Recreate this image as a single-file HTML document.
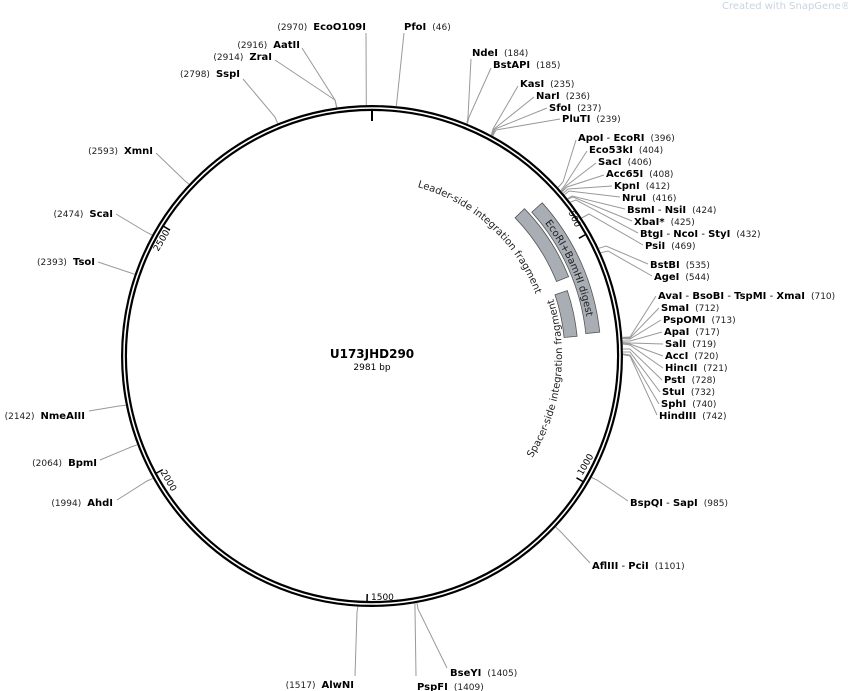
<!DOCTYPE html>
<html><head><meta charset="utf-8"><style>
html,body{margin:0;padding:0;background:#fff;width:848px;height:691px;overflow:hidden}
svg{display:block;font-family:"DejaVu Sans","Liberation Sans",sans-serif}
.n{font-weight:bold;font-size:10px;fill:#000}
.p{font-size:9px;fill:#222}
.l{stroke:#999;stroke-width:1;fill:none}
.t{font-size:9px;fill:#000}
</style></head><body>
<svg width="848" height="691" viewBox="0 0 848 691" xmlns="http://www.w3.org/2000/svg">
<text x="722" y="9" style="font-size:10px;fill:#c8d4e0">Created with SnapGene®</text>

<!-- ring -->
<circle cx="372" cy="356" r="248" fill="none" stroke="#000" stroke-width="6"/>
<circle cx="372" cy="356" r="248" fill="none" stroke="#fff" stroke-width="1.6"/>

<!-- ticks -->
<g stroke="#000" stroke-width="1.5">
<line x1="372" y1="109" x2="372" y2="121" stroke-width="2"/>
<line x1="586.7" y1="233.9" x2="578.9" y2="238.3"/>
<line x1="584.3" y1="482.4" x2="576.5" y2="477.8"/>
<line x1="367" y1="603" x2="367.2" y2="594"/>
<line x1="154.9" y1="473.9" x2="162.8" y2="469.6"/>
<line x1="162.3" y1="225.5" x2="170" y2="230.2"/>
</g>
<text class="t" transform="translate(572,220) rotate(65)" text-anchor="middle">500</text>
<text class="t" transform="translate(588,466) rotate(-60)" text-anchor="middle">1000</text>
<text class="t" x="371" y="600">1500</text>
<text class="t" transform="translate(166,482) rotate(60)" text-anchor="middle">2000</text>
<text class="t" transform="translate(164,242) rotate(-60)" text-anchor="middle">2500</text>

<!-- feature bars -->
<g fill="#a9aeb5" stroke="#555" stroke-width="0.8">
<path d="M542.2,202.8 A229,229 0 0 1 599.7,332.1 L585.8,333.5 A215,215 0 0 0 531.8,212.1 Z"/>
<path d="M524.5,208.7 A212,212 0 0 1 568.6,276.6 L556.5,281.5 A199,199 0 0 0 515.1,217.8 Z"/>
<path d="M567.3,290.6 A206,206 0 0 1 577.1,336.3 L564.1,337.5 A193,193 0 0 0 555,294.8 Z"/>
</g>
<defs>
<path id="dg" d="M512.1,189 A218,218 0 0 1 589.9,363.6"/>
<path id="ld" d="M402.4,183.7 A175,175 0 0 1 544.3,325.6"/>
<path id="sp" d="M517.5,478.1 A190,190 0 0 0 544.2,275.7"/>
</defs>
<text style="font-size:10px;fill:#222"><textPath href="#dg" startOffset="50%" text-anchor="middle">EcoRI+BamHI digest</textPath></text>
<text style="font-size:10px;fill:#222"><textPath href="#ld" startOffset="46%" text-anchor="middle">Leader-side integration fragment</textPath></text>
<text style="font-size:10px;fill:#222"><textPath href="#sp" startOffset="50%" text-anchor="middle">Spacer-side integration fragment</textPath></text>

<!-- center -->
<text x="372" y="358" text-anchor="middle" style="font-weight:bold;font-size:12px">U173JHD290</text>
<text x="372" y="370" text-anchor="middle" style="font-size:9px">2981 bp</text>

<!-- connector lines -->
<g class="l">
<polyline points="396.3,106.2 397,100 404,33"/>
<polyline points="466.9,123.6 468,117 471,59"/>
<polyline points="467.4,123.8 469,117 491,68"/>
<polyline points="491.3,135.2 493,129 518,86"/>
<polyline points="491.8,135.4 494,129 534,97"/>
<polyline points="492.3,135.6 495,129 547,108"/>
<polyline points="492.8,135.8 496,130 560,119"/>
<polyline points="558,187.5 563,182 576,140"/>
<polyline points="560.8,190.7 565,185 587,151"/>
<polyline points="561.4,191.4 566,186 596,163"/>
<polyline points="562,192 567,187 604,175"/>
<polyline points="563.2,193.4 568,189 612,186"/>
<polyline points="564.4,194.8 569,191 620,197"/>
<polyline points="567.6,198.7 572,196 625,209"/>
<polyline points="567.9,199 573,197 632,221"/>
<polyline points="570.3,202.1 576,200 638,233"/>
<polyline points="581.6,218 589,214 643,245"/>
<polyline points="598.7,248.3 606,246 648,264"/>
<polyline points="600.8,252.7 608,251 652,276"/>
<polyline points="622.3,337.4 630,337 656,296"/>
<polyline points="622.4,338 630,338 659,308"/>
<polyline points="622.4,338.6 630,339 661,320"/>
<polyline points="622.5,341 630,341 662,332"/>
<polyline points="622.5,342.5 630,343 663,344"/>
<polyline points="622.5,343 630,344 663,356"/>
<polyline points="622.6,344 630,345 663,368"/>
<polyline points="622.7,349 630,349 662,380"/>
<polyline points="622.8,352 630,352 660,392"/>
<polyline points="623,354 630,355 659,404"/>
<polyline points="623,354.6 630,356 657,415"/>
<polyline points="591.6,477.5 597,480 628,501"/>
<polyline points="555.7,527.1 560,531 590,563"/>
<polyline points="417,602.9 418,609 447,668"/>
<polyline points="414.9,603.3 415,609 416,676"/>
<polyline points="357.9,606.6 357,612 355,676"/>
<polyline points="152.9,478.4 147,481 117,500"/>
<polyline points="137.2,444.8 131,447 100,460"/>
<polyline points="125.9,405.2 119,406 89,411"/>
<polyline points="134.7,274.3 128,272 98,262"/>
<polyline points="152,235.1 146,232 116,214"/>
<polyline points="189,184.2 184,180 156,153"/>
<polyline points="277.6,123.4 275,117 243,79"/>
<polyline points="336.6,107.5 335,100 275,60"/>
<polyline points="336.9,107.5 335,100 302,48"/>
<polyline points="366.3,105 366,33"/>
</g>

<!-- right labels -->
<g>
<text x="404" y="30"><tspan class="n">PfoI</tspan><tspan class="p" dx="6">(46)</tspan></text>
<text x="472" y="56"><tspan class="n">NdeI</tspan><tspan class="p" dx="6">(184)</tspan></text>
<text x="493" y="68"><tspan class="n">BstAPI</tspan><tspan class="p" dx="6">(185)</tspan></text>
<text x="520" y="87"><tspan class="n">KasI</tspan><tspan class="p" dx="6">(235)</tspan></text>
<text x="536" y="99"><tspan class="n">NarI</tspan><tspan class="p" dx="6">(236)</tspan></text>
<text x="549" y="111"><tspan class="n">SfoI</tspan><tspan class="p" dx="6">(237)</tspan></text>
<text x="562" y="122"><tspan class="n">PluTI</tspan><tspan class="p" dx="6">(239)</tspan></text>
<text x="578" y="141"><tspan class="n">ApoI</tspan><tspan style="font-size:10px"> - </tspan><tspan class="n">EcoRI</tspan><tspan class="p" dx="6">(396)</tspan></text>
<text x="589" y="153"><tspan class="n">Eco53kI</tspan><tspan class="p" dx="6">(404)</tspan></text>
<text x="598" y="165"><tspan class="n">SacI</tspan><tspan class="p" dx="6">(406)</tspan></text>
<text x="606" y="177"><tspan class="n">Acc65I</tspan><tspan class="p" dx="6">(408)</tspan></text>
<text x="614" y="189"><tspan class="n">KpnI</tspan><tspan class="p" dx="6">(412)</tspan></text>
<text x="622" y="201"><tspan class="n">NruI</tspan><tspan class="p" dx="6">(416)</tspan></text>
<text x="627" y="213"><tspan class="n">BsmI</tspan><tspan style="font-size:10px"> - </tspan><tspan class="n">NsiI</tspan><tspan class="p" dx="6">(424)</tspan></text>
<text x="634" y="225"><tspan class="n">XbaI*</tspan><tspan class="p" dx="6">(425)</tspan></text>
<text x="640" y="237"><tspan class="n">BtgI</tspan><tspan style="font-size:10px"> - </tspan><tspan class="n">NcoI</tspan><tspan style="font-size:10px"> - </tspan><tspan class="n">StyI</tspan><tspan class="p" dx="6">(432)</tspan></text>
<text x="645" y="249"><tspan class="n">PsiI</tspan><tspan class="p" dx="6">(469)</tspan></text>
<text x="650" y="268"><tspan class="n">BstBI</tspan><tspan class="p" dx="6">(535)</tspan></text>
<text x="654" y="280"><tspan class="n">AgeI</tspan><tspan class="p" dx="6">(544)</tspan></text>
<text x="658" y="299"><tspan class="n">AvaI</tspan><tspan style="font-size:10px"> - </tspan><tspan class="n">BsoBI</tspan><tspan style="font-size:10px"> - </tspan><tspan class="n">TspMI</tspan><tspan style="font-size:10px"> - </tspan><tspan class="n">XmaI</tspan><tspan class="p" dx="6">(710)</tspan></text>
<text x="661" y="311"><tspan class="n">SmaI</tspan><tspan class="p" dx="6">(712)</tspan></text>
<text x="663" y="323"><tspan class="n">PspOMI</tspan><tspan class="p" dx="6">(713)</tspan></text>
<text x="664" y="335"><tspan class="n">ApaI</tspan><tspan class="p" dx="6">(717)</tspan></text>
<text x="665" y="347"><tspan class="n">SalI</tspan><tspan class="p" dx="6">(719)</tspan></text>
<text x="665" y="359"><tspan class="n">AccI</tspan><tspan class="p" dx="6">(720)</tspan></text>
<text x="665" y="371"><tspan class="n">HincII</tspan><tspan class="p" dx="6">(721)</tspan></text>
<text x="664" y="383"><tspan class="n">PstI</tspan><tspan class="p" dx="6">(728)</tspan></text>
<text x="662" y="395"><tspan class="n">StuI</tspan><tspan class="p" dx="6">(732)</tspan></text>
<text x="661" y="407"><tspan class="n">SphI</tspan><tspan class="p" dx="6">(740)</tspan></text>
<text x="659" y="419"><tspan class="n">HindIII</tspan><tspan class="p" dx="6">(742)</tspan></text>
<text x="630" y="506"><tspan class="n">BspQI</tspan><tspan style="font-size:10px"> - </tspan><tspan class="n">SapI</tspan><tspan class="p" dx="6">(985)</tspan></text>
<text x="592" y="569"><tspan class="n">AflIII</tspan><tspan style="font-size:10px"> - </tspan><tspan class="n">PciI</tspan><tspan class="p" dx="6">(1101)</tspan></text>
<text x="450" y="676"><tspan class="n">BseYI</tspan><tspan class="p" dx="6">(1405)</tspan></text>
<text x="417" y="690"><tspan class="n">PspFI</tspan><tspan class="p" dx="6">(1409)</tspan></text>
</g>

<!-- left labels -->
<g text-anchor="end">
<text x="366" y="30"><tspan class="p">(2970)</tspan><tspan class="n" dx="6">EcoO109I</tspan></text>
<text x="300" y="48"><tspan class="p">(2916)</tspan><tspan class="n" dx="6">AatII</tspan></text>
<text x="272" y="60"><tspan class="p">(2914)</tspan><tspan class="n" dx="6">ZraI</tspan></text>
<text x="240" y="77"><tspan class="p">(2798)</tspan><tspan class="n" dx="6">SspI</tspan></text>
<text x="153" y="154"><tspan class="p">(2593)</tspan><tspan class="n" dx="6">XmnI</tspan></text>
<text x="113" y="217"><tspan class="p">(2474)</tspan><tspan class="n" dx="6">ScaI</tspan></text>
<text x="95" y="265"><tspan class="p">(2393)</tspan><tspan class="n" dx="6">TsoI</tspan></text>
<text x="85" y="419"><tspan class="p">(2142)</tspan><tspan class="n" dx="6">NmeAIII</tspan></text>
<text x="97" y="466"><tspan class="p">(2064)</tspan><tspan class="n" dx="6">BpmI</tspan></text>
<text x="113" y="506"><tspan class="p">(1994)</tspan><tspan class="n" dx="6">AhdI</tspan></text>
<text x="354" y="688"><tspan class="p">(1517)</tspan><tspan class="n" dx="6">AlwNI</tspan></text>
</g>
</svg>
</body></html>
